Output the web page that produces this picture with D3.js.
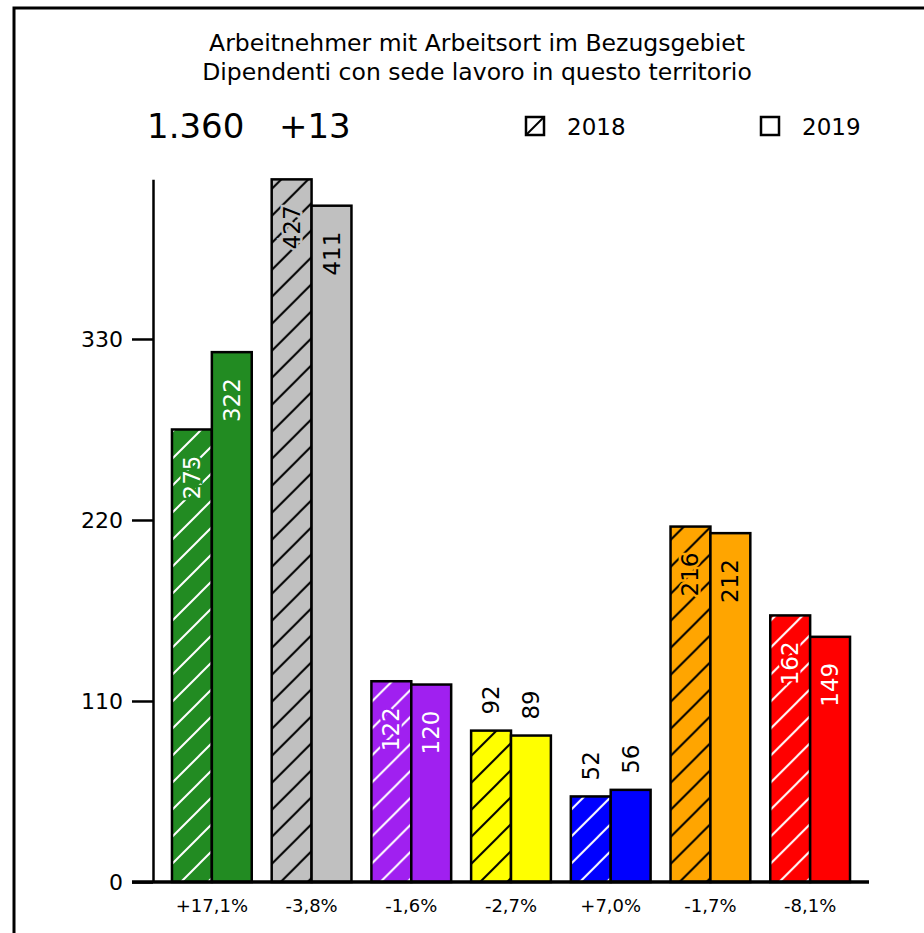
<!DOCTYPE html>
<html>
<head>
<meta charset="utf-8">
<script src="https://cdn.jsdelivr.net/npm/d3@7"></script>
<style>
  body { margin: 0; background: #fff; }
  svg text { font-family: "DejaVu Sans", sans-serif; fill: #000; }
</style>
</head>
<body>
<div id="chart"></div>
<script>
/** chart data */
var categories = ['g1', 'g2', 'g3', 'g4', 'g5', 'g6', 'g7'];
var changeLabels = ['+17,1%', '-3,8%', '-1,6%', '-2,7%', '+7,0%', '-1,7%', '-8,1%'];
var years = ['2018', '2019'];
var values2018 = [275, 427, 122, 92, 52, 216, 162];
var values2019 = [322, 411, 120, 89, 56, 212, 149];
var barColors = ['#228b22', '#c0c0c0', '#a020f0', '#ffff00', '#0000ff', '#ffa500', '#ff0000'];
var inkColors = ['#fff', '#000', '#fff', '#000', '#fff', '#000', '#fff'];
var yTicks = [0, 110, 220, 330];
var titleLines = ['Arbeitnehmer mit Arbeitsort im Bezugsgebiet', 'Dipendenti con sede lavoro in questo territorio'];
var totalLabel = '1.360';
var totalChange = '+13';

/** sizes */
var width = 924,
    height = 933,
    baseY = 882,
    axisX = 153,
    hatchStep = 27;

var svg = d3.select('#chart').append('svg')
    .attr('width', width)
    .attr('height', height);

// hatch patterns, one per colour
var defs = svg.append('defs');
barColors.forEach(function (c, i) {
    var p = defs.append('pattern')
        .attr('id', 'hatch' + i)
        .attr('patternUnits', 'userSpaceOnUse')
        .attr('width', hatchStep)
        .attr('height', hatchStep);
    p.append('rect')
        .attr('width', hatchStep)
        .attr('height', hatchStep)
        .attr('fill', c);
    p.append('path')
        .attr('d', 'M0,' + hatchStep + 'L' + hatchStep + ',0M-4,4L4,-4M' + (hatchStep - 4) + ',' + (hatchStep + 4) + 'L' + (hatchStep + 4) + ',' + (hatchStep - 4))
        .attr('stroke', inkColors[i])
        .attr('stroke-width', 2);
});

// outer frame
svg.append('path')
    .attr('d', 'M14,' + (height + 2) + 'L14,8L' + (width + 2) + ',8')
    .attr('fill', 'none')
    .attr('stroke', '#000')
    .attr('stroke-width', 3);

// titles
svg.selectAll('.title')
    .data(titleLines)
    .enter()
    .append('text')
    .attr('class', 'title')
    .attr('x', 477)
    .attr('y', function (d, i) { return 51 + i * 29; })
    .attr('text-anchor', 'middle')
    .style('font-size', '23.5px')
    .text(function (d) { return d; });

svg.append('text')
    .attr('x', 147)
    .attr('y', 138)
    .style('font-size', '34px')
    .text(totalLabel);
svg.append('text')
    .attr('x', 279)
    .attr('y', 138)
    .style('font-size', '34px')
    .text(totalChange);

// legend
var legend = svg.selectAll('.legend')
    .data(years)
    .enter()
    .append('g')
    .attr('class', 'legend')
    .attr('transform', function (d, i) { return 'translate(' + (526 + i * 235) + ',117)'; });
legend.append('rect')
    .attr('width', 18)
    .attr('height', 18)
    .attr('fill', '#fff')
    .attr('stroke', '#000')
    .attr('stroke-width', 2.5);
legend.filter(function (d, i) { return i == 0; })
    .append('path')
    .attr('d', 'M0,18L18,0')
    .attr('stroke', '#000')
    .attr('stroke-width', 2);
legend.append('text')
    .attr('x', 41)
    .attr('y', 18)
    .style('font-size', '23px')
    .text(function (d) { return d; });

// scales
var yScale = d3.scaleLinear()
    .domain([0, d3.max(values2018.concat(values2019))])
    .range([baseY, baseY - 427 * 1.6455]);

var xScale = d3.scaleBand()
    .domain(categories)
    .range([162, 860])
    .paddingInner(0.2)
    .paddingOuter(0.1);

var yearScale = d3.scaleBand()
    .domain(years)
    .range([0, xScale.bandwidth()]);

// y axis
var yAxis = d3.axisLeft(yScale)
    .tickValues(yTicks)
    .tickSize(21)
    .tickSizeOuter(0)
    .tickPadding(9);
var yg = svg.append('g')
    .attr('transform', 'translate(' + axisX + ',0)')
    .call(yAxis);
yg.selectAll('path, line').attr('stroke', '#000').attr('stroke-width', 2.5);
yg.selectAll('text')
    .style('font-size', '22px')
    .style('font-family', '"DejaVu Sans", sans-serif')
    .attr('fill', '#000');

// bars
var rows = [];
categories.forEach(function (c, i) {
    rows.push({ cat: c, i: i, year: '2018', value: values2018[i] });
    rows.push({ cat: c, i: i, year: '2019', value: values2019[i] });
});

var bar = svg.selectAll('.bar')
    .data(rows)
    .enter()
    .append('g')
    .attr('class', 'bar')
    .attr('transform', function (d) {
        return 'translate(' + (xScale(d.cat) + yearScale(d.year)) + ',0)';
    });

bar.append('rect')
    .attr('y', function (d) { return yScale(d.value); })
    .attr('width', yearScale.bandwidth())
    .attr('height', function (d) { return baseY - yScale(d.value); })
    .attr('fill', function (d) {
        return d.year == '2018' ? 'url(#hatch' + d.i + ')' : barColors[d.i];
    })
    .attr('stroke', '#000')
    .attr('stroke-width', 2.5);

// value labels, rotated; inside for tall bars, above for short ones
bar.append('text')
    .attr('transform', function (d) {
        var inside = d.value > 100;
        var ty = inside ? yScale(d.value) + 26 : yScale(d.value) - 16;
        return 'translate(' + (yearScale.bandwidth() / 2 + 8) + ',' + ty + ') rotate(-90)';
    })
    .attr('text-anchor', function (d) { return d.value > 100 ? 'end' : 'start'; })
    .style('font-size', '23px')
    .style('paint-order', 'stroke')
    .attr('stroke', function (d) { return d.value > 100 ? barColors[d.i] : 'none'; })
    .attr('stroke-width', 5)
    .style('fill', function (d) { return d.value > 100 ? inkColors[d.i] : '#000'; })
    .text(function (d) { return d.value; });

// x axis with change labels
var xAxis = d3.axisBottom(xScale)
    .tickSize(0)
    .tickPadding(17)
    .tickFormat(function (d, i) { return changeLabels[i]; });
var xg = svg.append('g')
    .attr('transform', 'translate(0,' + baseY + ')')
    .call(xAxis);
xg.select('.domain').remove();
xg.selectAll('text')
    .style('font-size', '18px')
    .style('font-family', '"DejaVu Sans", sans-serif')
    .attr('fill', '#000');

svg.append('line')
    .attr('x1', axisX - 21)
    .attr('x2', 869)
    .attr('y1', baseY)
    .attr('y2', baseY)
    .attr('stroke', '#000')
    .attr('stroke-width', 3.5);
</script>
</body>
</html>
